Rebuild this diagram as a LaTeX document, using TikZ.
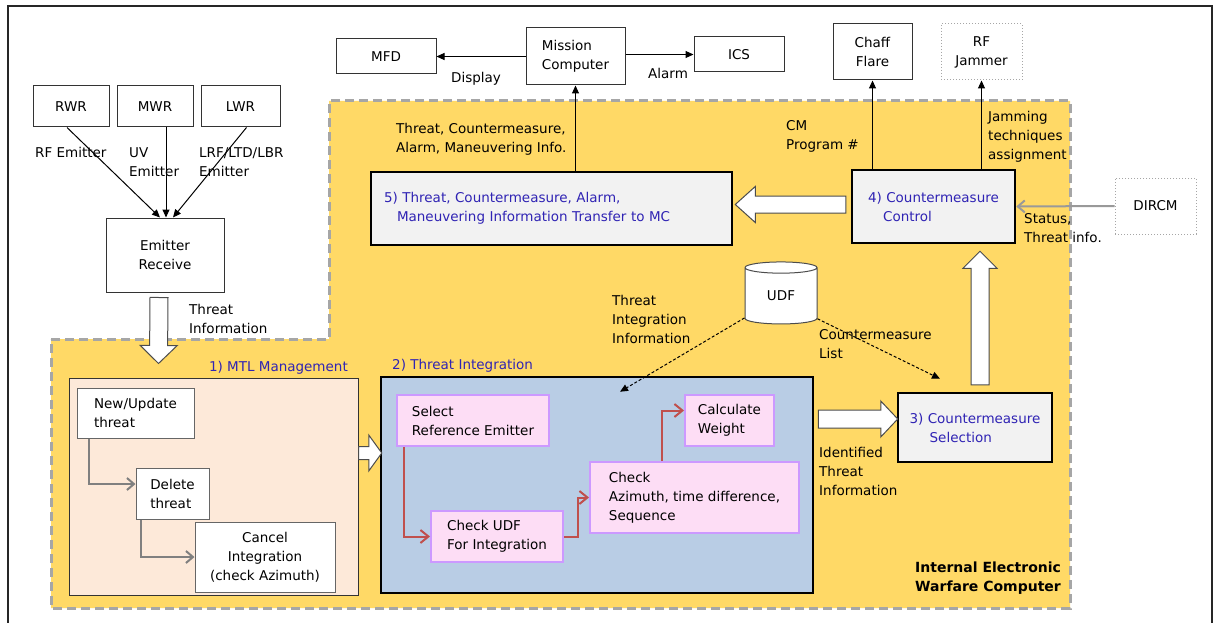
\documentclass[tikz,border=0pt]{standalone}
\usepackage{fontspec}
\setmainfont{DejaVu Sans}
\usetikzlibrary{arrows.meta,calc,shapes.geometric}

\definecolor{iewcyellow}{RGB}{255,217,102}
\definecolor{regionborder}{RGB}{166,166,166}
\definecolor{stepblue}{RGB}{185,205,229}
\definecolor{steppink}{RGB}{253,221,245}
\definecolor{stepedge}{RGB}{204,153,255}
\definecolor{mtlfill}{RGB}{253,233,217}
\definecolor{procfill}{RGB}{242,242,242}
\definecolor{titleblue}{RGB}{48,36,180}
\definecolor{flowred}{RGB}{192,80,77}
\definecolor{flowgray}{RGB}{128,128,128}

\tikzset{
  unitbox/.style={draw=black!80, fill=white, line width=1pt, inner sep=0pt, align=center},
  extbox/.style={draw=black!35, dotted, fill=white, line width=1pt, inner sep=0pt, align=center},
  procbox/.style={draw=black, fill=procfill, line width=2.5pt, inner sep=0pt, align=left, text=titleblue},
  substep/.style={draw=stepedge, fill=steppink, line width=2pt, inner sep=0pt, align=left},
  mtlstep/.style={draw=black!60, fill=white, line width=1pt, inner sep=0pt, align=left},
  lbl/.style={anchor=north west, align=left, inner sep=0pt},
  sig/.style={-{Triangle[length=8pt,width=7pt]}, line width=1pt},
  infoflow/.style={-{Triangle[length=8pt,width=7pt]}, line width=1pt, densely dashed},
  redflow/.style={-{Straight Barb[length=8pt,width=13pt]}, draw=flowred, line width=2pt},
  grayflow/.style={-{Straight Barb[length=7pt,width=12pt]}, draw=flowgray, line width=2pt},
  hollow/.style={draw=black!70, fill=white, line width=1pt},
}

% wide outlined arrow: from, to, half shaft, half head, head length
\newcommand\fatarrow[5]{%
  \draw[hollow] let \p1=($(#2)-(#1)$), \n1={veclen(\x1,\y1)}, \n2={atan2(\y1,\x1)} in
    [shift={(#1)}, rotate=\n2]
    (0pt,#3pt) -- ({\n1-#5pt},#3pt) -- ({\n1-#5pt},#4pt) -- ({\n1+0pt},0pt)
    -- ({\n1-#5pt},-#4pt) -- ({\n1-#5pt},-#3pt) -- (0pt,-#3pt) -- cycle;}

\begin{document}
\begin{tikzpicture}[x=1pt, y=-1pt, font=\fontsize{13.5}{19}\selectfont]
  \useasboundingbox (0,0) rectangle (1220,623);

  % outer frame
  \draw[line width=2pt, black!85] (8,6) rectangle (1212,650);

  % internal EW computer area
  \draw[draw=regionborder, fill=iewcyellow, line width=3pt, dash pattern=on 9pt off 5pt]
    (51,339) -- (329,339) -- (329,101) -- (1070,101) -- (1070,608) -- (51,608) -- cycle;

  % aircraft units
  \node[unitbox, minimum width=100, minimum height=35] (mfd) at (386,56.5) {MFD};
  \node[unitbox, align=left, minimum width=99, minimum height=57] (mc) at (575.5,56.5) {Mission\\Computer};
  \node[unitbox, minimum width=90, minimum height=35] (ics) at (739,54.5) {ICS};
  \node[unitbox, minimum width=79, minimum height=56] (chaff) at (872.5,52) {Chaff\\Flare};
  \node[extbox, minimum width=81, minimum height=56] (rfj) at (981.5,52) {RF\\Jammer};
  \node[extbox, minimum width=81, minimum height=56] (dircm) at (1155.5,206) {DIRCM};

  % warning receivers
  \node[unitbox, minimum width=76, minimum height=41] (rwr) at (71,106.5) {RWR};
  \node[unitbox, minimum width=76, minimum height=41] (mwr) at (155,106.5) {MWR};
  \node[unitbox, minimum width=79, minimum height=41] (lwr) at (240.5,106.5) {LWR};
  \node[unitbox, minimum width=118, minimum height=74] (emr) at (165,255) {Emitter\\Receive};

  % processing steps
  \node[procbox, minimum width=163, minimum height=73] (cmc) at (933.5,206.5)
    {4) Countermeasure\\\hspace*{15pt}Control};
  \node[procbox, text width=335pt, inner xsep=13pt, minimum height=73] (tx) at (551.5,208.5)
    {5) Threat, Countermeasure, Alarm,\\\hspace*{13pt}Maneuvering Information Transfer to MC};
  \node[procbox, minimum width=154, minimum height=69] (cms) at (975,427.5)
    {3) Countermeasure\\\hspace*{20pt}Selection};

  \node[draw=black, fill=stepblue, line width=2.5pt, minimum width=432, minimum height=216] (ti) at (597,485) {};
  \node[draw=black!80, fill=mtlfill, line width=1pt, minimum width=289, minimum height=217] (mtl) at (213.5,486.5) {};
  \node[anchor=north west, inner sep=0pt, text=titleblue] (tilbl) at (392,359) {2) Threat Integration};
  \node[anchor=north east, inner sep=0pt, text=titleblue] (mtllbl) at (348,361) {1) MTL Management};

  % MTL management
  \node[mtlstep, minimum width=117, minimum height=50] (newthr) at (135.5,413) {New/Update\\threat};
  \node[mtlstep, minimum width=73, minimum height=51] (delthr) at (172.5,493.5) {Delete\\threat};
  \node[mtlstep, align=center, minimum width=140, minimum height=70] (cancel) at (265,557)
    {Cancel\\Integration\\(check Azimuth)};

  % threat integration
  \node[substep, minimum width=152, minimum height=51] (selref) at (473,420.5) {Select\\Reference Emitter};
  \node[substep, minimum width=132, minimum height=51] (chkudf) at (497,536.5) {Check UDF\\For Integration};
  \node[substep, minimum width=209, minimum height=71] (chkaz) at (694.5,497.5)
    {Check\\Azimuth, time difference,\\Sequence};
  \node[substep, minimum width=89, minimum height=51] (calcw) at (729.5,420.5) {Calculate\\Weight};

  % user data file
  \node[cylinder, shape border rotate=90, draw=black!70, fill=white, line width=1pt, aspect=0.4,
    minimum width=72, minimum height=62, inner sep=0pt] (udf) at (781,296) {UDF};

  % thin links
  \draw[sig] ($(rwr.south)+(-4,0)$) -- ($(emr.north)+(-5,0)$);
  \draw[sig] ($(mwr.south)+(11,0)$) -- ($(emr.north)+(1,0)$);
  \draw[sig] ($(lwr.south)+(6,0)$) -- ($(emr.north)+(8,0)$);
  \draw[sig] (mc.west) -- (mfd.east);
  \draw[sig] (mc.east |- ics.west) -- (ics.west);
  \draw[sig] (mc.south |- tx.north) -- (mc.south);
  \draw[sig] (chaff.south |- cmc.north) -- (chaff.south);
  \draw[sig] (rfj.south |- cmc.north) -- (rfj.south);
  \draw[grayflow, draw=black!40] (dircm.west) -- (cmc.east);

  \coordinate (ti-hint) at ($(ti.north)+(23,16)$);
  \coordinate (cms-hint) at ($(cms.north)+(-35,-13)$);
  \draw[infoflow] (udf.211) -- (ti-hint);
  \draw[infoflow] (udf.328) -- (cms-hint);

  \draw[redflow] ($(selref.south west)+(8,0)$) |- (chkudf.west);
  \draw[redflow] (chkudf.east) -- ++(14,0) |- (chkaz.west);
  \draw[redflow] ($(chkaz.north west)+(73,0)$) |- ($(calcw.west)+(0,-10)$);

  \draw[grayflow] ($(newthr.south west)+(12,0)$) |- ($(delthr.west)+(0,-9.5)$);
  \draw[grayflow] ($(delthr.south west)+(5,0)$) |- (cancel.west);

  % wide transfer arrows
  \coordinate (er-out) at ($(emr.south)+(-6,5)$);
  \coordinate (mtl-in) at ($(mtl.north west)+(90,-14)$);
  \coordinate (mtl-out) at ($(mtl.east)+(0,-33.5)$);
  \coordinate (ti-in) at ($(ti.west)+(2,-32)$);
  \coordinate (ti-out) at ($(ti.east)+(4,-66)$);
  \coordinate (cms-in) at ($(cms.west)+(1,-8.5)$);
  \coordinate (cms-out) at ($(cms.north)+(5,-7)$);
  \coordinate (cmc-in) at ($(cmc.south)+(46.5,7)$);
  \coordinate (cmc-out) at ($(cmc.west)+(-5,-2)$);
  \coordinate (tx-in) at ($(tx.east)+(2,-4)$);
  \fatarrow{er-out}{mtl-in}{9}{18.5}{18}
  \fatarrow{mtl-out}{ti-in}{6.5}{18}{13}
  \fatarrow{ti-out}{cms-in}{9}{18}{17}
  \fatarrow{cms-out}{cmc-in}{9}{17}{17}
  \fatarrow{cmc-out}{tx-in}{8.5}{18}{20}

  % labels
  \node[lbl] (rfe) at (35,147) {RF Emitter};
  \node[lbl] (uve) at (129,147) {UV\\Emitter};
  \node[lbl] (lwe) at (199,147) {LRF/LTD/LBR\\Emitter};
  \node[lbl] (thinfo) at (189,304) {Threat\\Information};
  \node[lbl] (disp) at (451,72) {Display};
  \node[lbl] (alrm) at (648,68) {Alarm};
  \node[lbl] (mcinfo) at (396,123) {Threat, Countermeasure,\\Alarm, Maneuvering Info.};
  \node[lbl] (cmprog) at (786,120) {CM\\Program \#};
  \node[lbl] (jam) at (988,111) {Jamming\\techniques\\assignment};
  \node[lbl] (stat) at (1024,213) {Status,\\Threat info.};
  \node[lbl] (tiinfo) at (612,295) {Threat\\Integration\\Information};
  \node[lbl] (cmlist) at (819,329) {Countermeasure\\List};
  \node[lbl] (idthr) at (819,447) {Identified\\Threat\\Information};
  \node[lbl, font=\fontsize{14}{19}\selectfont\bfseries] (iewc) at (915,562)
    {Internal Electronic\\Warfare Computer};
\end{tikzpicture}
\end{document}
